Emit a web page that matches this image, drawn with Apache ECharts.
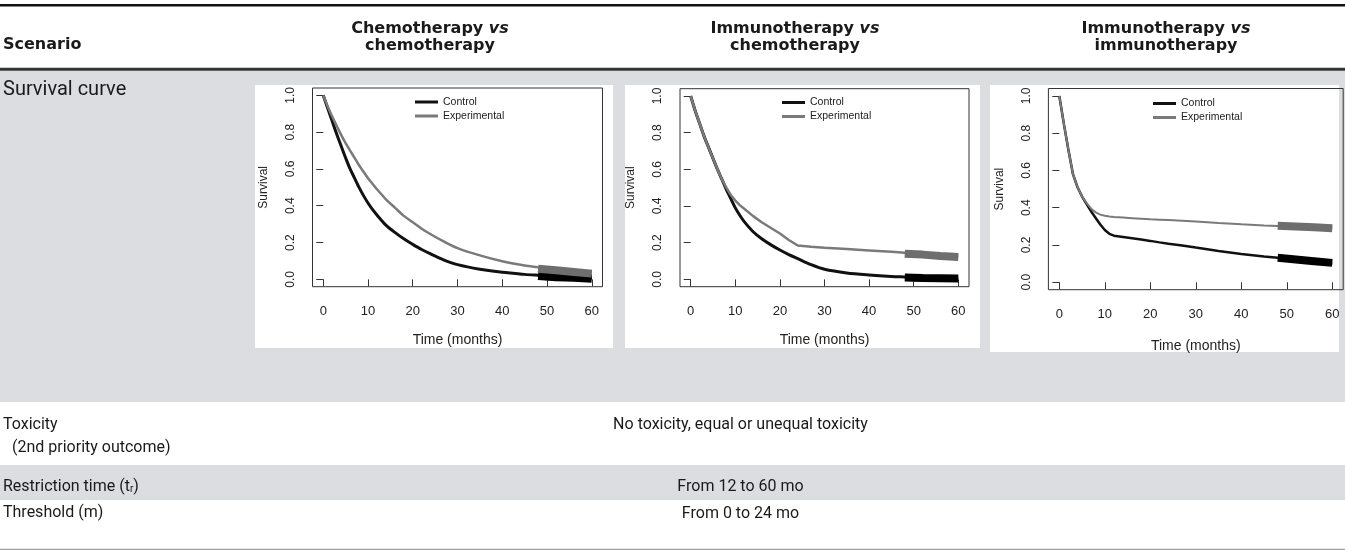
<!DOCTYPE html>
<html>
<head>
<meta charset="utf-8">
<title>Simulation scenarios</title>
<script src="https://cdn.jsdelivr.net/npm/echarts@6/dist/echarts.min.js"></script>
<style>
  html, body { margin: 0; padding: 0; background: #fff; }
  #main { width: 1345px; height: 550px; }
</style>
</head>
<body>
<div id="main"></div>
<script>
// survival values (time in months)
const months = [0, 1, 2, 3, 4, 5, 6, 7, 8, 9, 10, 11, 12, 14, 16, 18, 20, 22, 24, 27, 30, 35, 40, 45, 48, 50, 55, 60];

const chemoControl = [1.00, 0.93, 0.86, 0.79, 0.725, 0.66, 0.60, 0.55, 0.50, 0.455, 0.415, 0.38, 0.35, 0.295, 0.255, 0.22, 0.19, 0.162, 0.138, 0.105, 0.08, 0.055, 0.038, 0.027, 0.022, 0.019, 0.012, 0.006];
const chemoExperimental = [1.00, 0.94, 0.885, 0.835, 0.785, 0.74, 0.70, 0.66, 0.62, 0.585, 0.55, 0.52, 0.49, 0.435, 0.39, 0.345, 0.31, 0.275, 0.245, 0.205, 0.17, 0.13, 0.098, 0.075, 0.065, 0.058, 0.043, 0.03];

const immunoChemoControl = [1.00, 0.92, 0.85, 0.78, 0.72, 0.66, 0.60, 0.545, 0.49, 0.44, 0.39, 0.35, 0.315, 0.26, 0.22, 0.188, 0.16, 0.135, 0.113, 0.08, 0.055, 0.035, 0.024, 0.016, 0.013, 0.011, 0.008, 0.006];
const immunoChemoExperimental = [1.00, 0.92, 0.85, 0.78, 0.72, 0.66, 0.60, 0.545, 0.50, 0.46, 0.43, 0.405, 0.385, 0.345, 0.31, 0.28, 0.25, 0.215, 0.185, 0.178, 0.172, 0.165, 0.158, 0.15, 0.145, 0.142, 0.134, 0.125];

const immunoControl = [1.00, 0.85, 0.71, 0.58, 0.51, 0.46, 0.42, 0.38, 0.345, 0.31, 0.28, 0.26, 0.25, 0.243, 0.236, 0.229, 0.222, 0.214, 0.207, 0.197, 0.186, 0.168, 0.152, 0.138, 0.131, 0.126, 0.113, 0.10];
const immunoExperimental = [1.00, 0.85, 0.71, 0.58, 0.51, 0.46, 0.425, 0.395, 0.375, 0.363, 0.357, 0.353, 0.35, 0.347, 0.344, 0.341, 0.338, 0.336, 0.334, 0.33, 0.326, 0.318, 0.311, 0.305, 0.302, 0.30, 0.296, 0.293];

// thick segments drawn over the last 12 months
const bandMonths = [48, 52, 56, 60];
const chemoControlBand = [0.018, 0.012, 0.008, 0.003];
const chemoExperimentalBand = [0.058, 0.049, 0.04, 0.031];
const immunoChemoControlBand = [0.01, 0.007, 0.006, 0.005];
const immunoChemoExperimentalBand = [0.14, 0.135, 0.128, 0.122];
const immunoControlBand = [0.131, 0.122, 0.113, 0.104];
const immunoExperimentalBand = [0.303, 0.299, 0.295, 0.29];

const timeTicks = [0, 10, 20, 30, 40, 50, 60];
const survivalTicks = [0, 0.2, 0.4, 0.6, 0.8, 1.0];
const legendNames = ["Control", "Experimental"];

// table text
const columnHeads = [
  ["Chemotherapy", "chemotherapy"],
  ["Immunotherapy", "chemotherapy"],
  ["Immunotherapy", "immunotherapy"],
];
const scenarioHead = "Scenario";
const curveLabel = "Survival curve";
const toxicityLabel = ["Toxicity", "(2nd priority outcome)"];
const toxicityValue = "No toxicity, equal or unequal toxicity";
const restrictionValue = "From 12 to 60 mo";
const thresholdLabel = "Threshold (m)";
const thresholdValue = "From 0 to 24 mo";

const bodyFont = "Roboto, 'Liberation Sans', sans-serif";
const headFont = "'DejaVu Sans', 'Liberation Sans', sans-serif";
const plotFont = "'Liberation Sans', Arial, sans-serif";
const gray = "#dcdde0";

const panels = [
  {
    control: chemoControl,
    experimental: chemoExperimental,
    controlBand: chemoControlBand,
    experimentalBand: chemoExperimentalBand,
    grid: { left: 312.5, top: 88, width: 290, height: 198.7 },
    legend: { left: 415, top: 95.5 },
    widths: [3, 2.5],
    smooth: [0.3, 0.3],
    nameGap: 46,
  },
  {
    control: immunoChemoControl,
    experimental: immunoChemoExperimental,
    controlBand: immunoChemoControlBand,
    experimentalBand: immunoChemoExperimentalBand,
    grid: { left: 680, top: 88.7, width: 289, height: 198 },
    legend: { left: 782, top: 96 },
    widths: [3, 2.5],
    smooth: [0.3, false],
    nameGap: 46,
  },
  {
    control: immunoControl,
    experimental: immunoExperimental,
    controlBand: immunoControlBand,
    experimentalBand: immunoExperimentalBand,
    grid: { left: 1048.4, top: 88.5, width: 294.8, height: 201.2 },
    legend: { left: 1153, top: 97 },
    widths: [2.5, 2],
    smooth: [false, false],
    nameGap: 49,
  },
];

// white picture behind each plot
const panelBoxes = [
  { x: 255, y: 85, width: 358, height: 263 },
  { x: 625, y: 85, width: 355, height: 263 },
  { x: 990, y: 85, width: 349, height: 267 },
];
const columnCenters = [430, 795, 1166];

function pairs(xs, ys) {
  return xs.map((x, i) => [x, ys[i]]);
}

function text(str, x, y, font, align, extra) {
  let el = {
    type: "text",
    x: x,
    y: y,
    z: 10,
    style: {
      text: str,
      font: font,
      fill: "#1a1a1a",
      textAlign: align || "left",
      textVerticalAlign: "middle",
    },
  };
  if (extra) {
    Object.assign(el.style, extra);
  }
  return el;
}

function rect(x, y, w, h, fill) {
  return {
    type: "rect",
    z: -10,
    shape: { x: x, y: y, width: w, height: h },
    style: { fill: fill },
  };
}

let grids = [];
let xAxes = [];
let yAxes = [];
let series = [];
let legends = [];

panels.forEach((p, i) => {
  grids.push(
    Object.assign(
      {
        show: true,
        borderColor: "#333",
        borderWidth: 1,
        backgroundColor: "transparent",
        outerBoundsMode: "none",
        containLabel: false,
      },
      p.grid,
    ),
  );
  xAxes.push({
    gridIndex: i,
    type: "value",
    min: -2.4,
    max: 62.4,
    axisLine: { show: false },
    splitLine: { show: false },
    axisTick: {
      show: true,
      length: 7,
      customValues: timeTicks,
      lineStyle: { color: "#333", width: 1 },
    },
    axisLabel: {
      customValues: timeTicks,
      margin: 18,
      color: "#222",
      fontSize: 13,
      fontFamily: plotFont,
    },
    name: "Time (months)",
    nameLocation: "middle",
    nameGap: p.nameGap,
    nameTextStyle: { color: "#222", fontSize: 14, fontFamily: plotFont },
  });
  yAxes.push({
    gridIndex: i,
    type: "value",
    min: -0.04,
    max: 1.04,
    axisLine: { show: false },
    splitLine: { show: false },
    axisTick: {
      show: true,
      length: 7,
      customValues: survivalTicks,
      lineStyle: { color: "#333", width: 1 },
    },
    axisLabel: {
      customValues: survivalTicks,
      rotate: 90,
      margin: 16,
      color: "#222",
      fontSize: 12,
      fontFamily: plotFont,
      formatter: (v) => v.toFixed(1),
    },
    name: "Survival",
    nameLocation: "middle",
    nameRotate: 90,
    nameGap: 43,
    nameTextStyle: { color: "#222", fontSize: 12, fontFamily: plotFont },
  });

  series.push({
    name: "Control",
    type: "line",
    xAxisIndex: i,
    yAxisIndex: i,
    symbol: "none",
    smooth: p.smooth[0],
    color: "#111",
    lineStyle: { color: "#111", width: p.widths[0] },
    data: pairs(months, p.control),
    z: 2,
  });
  series.push({
    name: "Experimental",
    type: "line",
    xAxisIndex: i,
    yAxisIndex: i,
    symbol: "none",
    smooth: p.smooth[1],
    color: "#7a7a7a",
    lineStyle: { color: "#7a7a7a", width: p.widths[1] },
    data: pairs(months, p.experimental),
    z: 3,
  });
  series.push({
    name: "Control band " + i,
    type: "line",
    xAxisIndex: i,
    yAxisIndex: i,
    symbol: "none",
    color: "#000",
    lineStyle: { color: "#000", width: 8, cap: "butt" },
    data: pairs(bandMonths, p.controlBand),
    z: 4,
  });
  series.push({
    name: "Experimental band " + i,
    type: "line",
    xAxisIndex: i,
    yAxisIndex: i,
    symbol: "none",
    color: "#6e6e6e",
    lineStyle: { color: "#6e6e6e", width: 8, cap: "butt" },
    data: pairs(bandMonths, p.experimentalBand),
    z: 4,
  });

  legends.push({
    data: legendNames,
    left: p.legend.left,
    top: p.legend.top,
    orient: "vertical",
    padding: 0,
    itemWidth: 23,
    itemHeight: 3,
    itemGap: 1,
    icon: "rect",
    selectedMode: false,
    textStyle: {
      color: "#222",
      fontSize: 10.5,
      lineHeight: 13,
      fontFamily: plotFont,
    },
  });
});

// table: rules, shaded rows, labels
let elements = [
  rect(0, 70.7, 1345, 331.3, gray),
  rect(0, 465, 1345, 35, gray),
  rect(0, 4, 1345, 2.5, "#111"),
  rect(0, 67.7, 1345, 3, "#333"),
  rect(0, 548.7, 1345, 1.6, "#a3a3a3"),
];
panelBoxes.forEach((b) => {
  elements.push(rect(b.x, b.y, b.width, b.height, "#fff"));
});

elements.push(text(scenarioHead, 3, 45.2, "bold 16px " + headFont));
columnHeads.forEach((h, i) => {
  elements.push(
    text("{b|" + h[0] + " }{i|vs}", columnCenters[i], 28.7, "bold 16px " + headFont, "center", {
      rich: {
        b: { font: "bold 16px " + headFont, fill: "#1a1a1a" },
        i: { font: "italic bold 16px " + headFont, fill: "#1a1a1a" },
      },
    }),
  );
  elements.push(text(h[1], columnCenters[i], 45.7, "bold 16px " + headFont, "center"));
});

elements.push(text(curveLabel, 3, 90.2, "20px " + bodyFont));
elements.push(text(toxicityLabel[0], 3, 425.4, "16px " + bodyFont));
elements.push(text(toxicityLabel[1], 12, 447.7, "16px " + bodyFont));
elements.push(
  text("{n|Restriction time (t}{s|r}{n|)}", 3, 486.9, "16px " + bodyFont, "left", {
    rich: {
      n: { font: "16px " + bodyFont, fill: "#1a1a1a" },
      s: { font: "10px " + bodyFont, fill: "#1a1a1a", lineHeight: 6, verticalAlign: "bottom" },
    },
  }),
);
elements.push(text(thresholdLabel, 3, 513.1, "16px " + bodyFont));
elements.push(text(toxicityValue, 740.5, 425.4, "16px " + bodyFont, "center"));
elements.push(text(restrictionValue, 740.5, 487.1, "16px " + bodyFont, "center"));
elements.push(text(thresholdValue, 740.5, 514.4, "16px " + bodyFont, "center"));

let chart = echarts.init(document.getElementById("main"));
chart.setOption({
  animation: false,
  backgroundColor: "#fff",
  graphic: { elements: elements },
  legend: legends,
  grid: grids,
  xAxis: xAxes,
  yAxis: yAxes,
  series: series,
});
</script>
</body>
</html>
